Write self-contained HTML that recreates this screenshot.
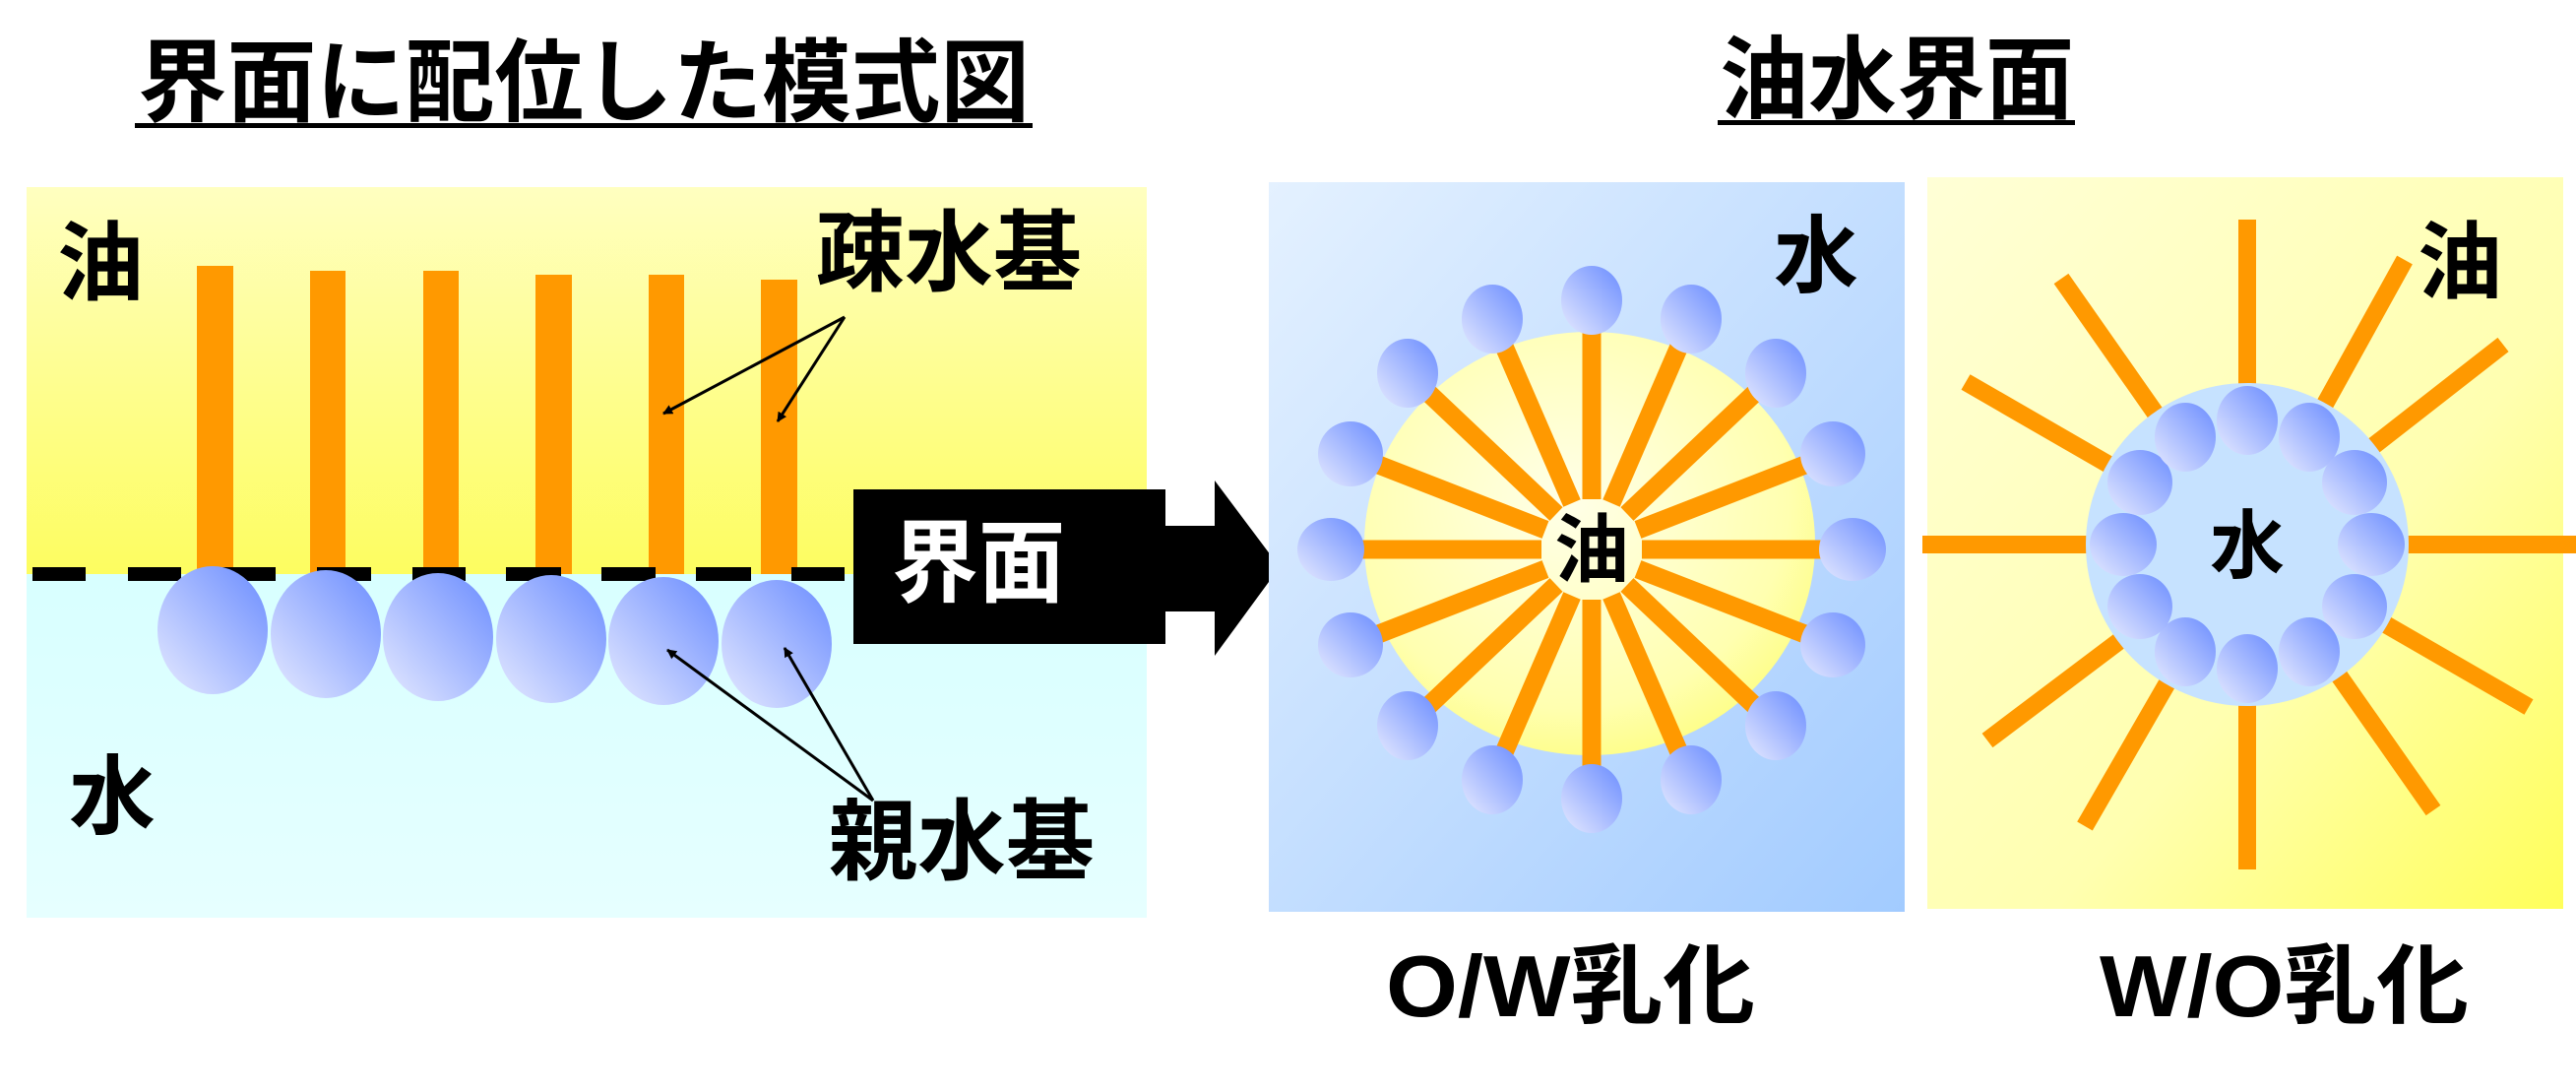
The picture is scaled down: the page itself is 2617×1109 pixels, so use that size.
<!DOCTYPE html>
<html><head><meta charset="utf-8"><style>
html,body{margin:0;padding:0;background:#fff;}
svg{display:block;}
text{font-family:"Liberation Sans","Noto Sans CJK JP",sans-serif;font-weight:700;}
</style></head><body>
<svg width="2617" height="1109" viewBox="0 0 2617 1109" xmlns="http://www.w3.org/2000/svg">
<defs>
<linearGradient id="oil" x1="0" y1="0" x2="0" y2="1"><stop offset="0" stop-color="#ffffc0"/><stop offset="1" stop-color="#fdfd60"/></linearGradient>
<linearGradient id="water" x1="0" y1="0" x2="0" y2="1"><stop offset="0" stop-color="#d8ffff"/><stop offset="1" stop-color="#e6ffff"/></linearGradient>
<linearGradient id="head" x1="0" y1="1" x2="1" y2="0"><stop offset="0" stop-color="#e6eaff"/><stop offset="1" stop-color="#6a8cff"/></linearGradient>
<linearGradient id="owbg" x1="0" y1="0" x2="1" y2="1"><stop offset="0" stop-color="#e4f1ff"/><stop offset="1" stop-color="#a2cbff"/></linearGradient>
<linearGradient id="wobg" x1="0" y1="0" x2="1" y2="1"><stop offset="0" stop-color="#ffffd6"/><stop offset="0.6" stop-color="#ffffb0"/><stop offset="1" stop-color="#ffff5a"/></linearGradient>
<radialGradient id="core" cx="0.45" cy="0.4" r="0.7"><stop offset="0" stop-color="#ffffe8"/><stop offset="0.7" stop-color="#ffffb0"/><stop offset="1" stop-color="#fdfd70"/></radialGradient>
<marker id="ah" markerWidth="10" markerHeight="10" refX="9" refY="5" orient="auto" markerUnits="userSpaceOnUse" viewBox="0 0 10 10"><path d="M0,0 L10,5 L0,10 z" fill="#000"/></marker>
</defs>

<!-- Titles -->
<text x="140" y="116" font-size="92" textLength="906" lengthAdjust="spacingAndGlyphs">界面に配位した模式図</text>
<rect x="137" y="125" width="912" height="5" fill="#000"/>
<text x="1747" y="113" font-size="92" textLength="360" lengthAdjust="spacingAndGlyphs">油水界面</text>
<rect x="1745" y="122" width="363" height="5" fill="#000"/>

<!-- Left panel -->
<rect x="27" y="190" width="1138" height="393" fill="url(#oil)"/>
<rect x="27" y="583" width="1138" height="349" fill="url(#water)"/>
<g fill="#ff9900">
<rect x="200" y="270" width="37" height="313"/>
<rect x="315" y="275" width="36" height="308"/>
<rect x="430" y="275" width="36" height="308"/>
<rect x="544" y="279" width="37" height="304"/>
<rect x="659" y="279" width="36" height="304"/>
<rect x="773" y="284" width="37" height="299"/>
</g>
<g fill="#000">
<rect x="33" y="576" width="54" height="14"/><rect x="130" y="576" width="54" height="14"/><rect x="226" y="576" width="54" height="14"/><rect x="322" y="576" width="55" height="14"/><rect x="419" y="576" width="54" height="14"/><rect x="514" y="576" width="56" height="14"/><rect x="611" y="576" width="55" height="14"/><rect x="707" y="576" width="56" height="14"/><rect x="804" y="576" width="54" height="14"/>
</g>
<g fill="url(#head)">
<ellipse cx="216" cy="640" rx="56" ry="65"/>
<ellipse cx="331" cy="644" rx="56" ry="65"/>
<ellipse cx="445" cy="647" rx="56" ry="65"/>
<ellipse cx="560" cy="649" rx="56" ry="65"/>
<ellipse cx="674" cy="651" rx="56" ry="65"/>
<ellipse cx="789" cy="654" rx="56" ry="65"/>
</g>
<text x="58" y="298" font-size="88">油</text>
<text x="70" y="840" font-size="88">水</text>
<text x="829" y="288" font-size="90" textLength="270" lengthAdjust="spacingAndGlyphs">疎水基</text>
<text x="842" y="886" font-size="90" textLength="270" lengthAdjust="spacingAndGlyphs">親水基</text>
<g stroke="#000" stroke-width="3" fill="none">
<line x1="858" y1="322" x2="674" y2="420" marker-end="url(#ah)"/>
<line x1="858" y1="322" x2="790" y2="428" marker-end="url(#ah)"/>
<line x1="887" y1="813" x2="678" y2="660" marker-end="url(#ah)"/>
<line x1="887" y1="813" x2="797" y2="658" marker-end="url(#ah)"/>
</g>
<path d="M867,497 H1184 V534 H1234 V488 L1300,576 L1234,666 V621 H1184 V654 H867 Z" fill="#000"/>
<text x="906" y="604" font-size="92" fill="#fff" textLength="176" lengthAdjust="spacingAndGlyphs">界面</text>

<!-- O/W panel -->
<rect x="1289" y="185" width="646" height="741" fill="url(#owbg)"/>
<ellipse cx="1615" cy="552" rx="229" ry="215" fill="url(#core)"/>
<g stroke="#ff9900" stroke-width="19">
<line x1="1617" y1="507" x2="1617" y2="305"/>
<line x1="1637" y1="511" x2="1718" y2="324"/>
<line x1="1653" y1="522" x2="1804" y2="379"/>
<line x1="1664" y1="538" x2="1862" y2="461"/>
<line x1="1668" y1="558" x2="1882" y2="558"/>
<line x1="1664" y1="578" x2="1862" y2="655"/>
<line x1="1653" y1="594" x2="1804" y2="737"/>
<line x1="1637" y1="605" x2="1718" y2="792"/>
<line x1="1617" y1="609" x2="1617" y2="811"/>
<line x1="1597" y1="605" x2="1516" y2="792"/>
<line x1="1581" y1="594" x2="1430" y2="737"/>
<line x1="1570" y1="578" x2="1372" y2="655"/>
<line x1="1566" y1="558" x2="1352" y2="558"/>
<line x1="1570" y1="538" x2="1372" y2="461"/>
<line x1="1581" y1="522" x2="1430" y2="379"/>
<line x1="1597" y1="511" x2="1516" y2="324"/>
</g>
<g fill="url(#head)">
<ellipse cx="1617" cy="305" rx="31" ry="35"/>
<ellipse cx="1718" cy="324" rx="31" ry="35"/>
<ellipse cx="1804" cy="379" rx="31" ry="35"/>
<ellipse cx="1862" cy="461" rx="33" ry="33"/>
<ellipse cx="1882" cy="558" rx="34" ry="32"/>
<ellipse cx="1862" cy="655" rx="33" ry="33"/>
<ellipse cx="1804" cy="737" rx="31" ry="35"/>
<ellipse cx="1718" cy="792" rx="31" ry="35"/>
<ellipse cx="1617" cy="811" rx="31" ry="35"/>
<ellipse cx="1516" cy="792" rx="31" ry="35"/>
<ellipse cx="1430" cy="737" rx="31" ry="35"/>
<ellipse cx="1372" cy="655" rx="33" ry="33"/>
<ellipse cx="1352" cy="558" rx="34" ry="32"/>
<ellipse cx="1372" cy="461" rx="33" ry="33"/>
<ellipse cx="1430" cy="379" rx="31" ry="35"/>
<ellipse cx="1516" cy="324" rx="31" ry="35"/>
</g>
<text x="1617" y="585" font-size="76" text-anchor="middle">油</text>
<text x="1802" y="290" font-size="86">水</text>
<text x="1408" y="1032" font-size="88" textLength="375" lengthAdjust="spacingAndGlyphs">O/W乳化</text>

<!-- W/O panel -->
<rect x="1958" y="180" width="646" height="743" fill="url(#wobg)"/>
<g stroke="#ff9900" stroke-width="18">
<line x1="2283" y1="553" x2="2283" y2="223"/>
<line x1="2283" y1="553" x2="2443" y2="264"/>
<line x1="2283" y1="553" x2="2543" y2="350"/>
<line x1="2283" y1="553" x2="2617" y2="553"/>
<line x1="2283" y1="553" x2="2569" y2="718"/>
<line x1="2283" y1="553" x2="2472" y2="823"/>
<line x1="2283" y1="553" x2="2283" y2="883"/>
<line x1="2283" y1="553" x2="2118" y2="839"/>
<line x1="2283" y1="553" x2="2019" y2="752"/>
<line x1="2283" y1="553" x2="1953" y2="553"/>
<line x1="2283" y1="553" x2="1997" y2="388"/>
<line x1="2283" y1="553" x2="2094" y2="283"/>
</g>
<circle cx="2283" cy="553" r="164" fill="#c6e2ff"/>
<g fill="url(#head)">
<ellipse cx="2283" cy="427" rx="31" ry="35"/>
<ellipse cx="2346" cy="444" rx="31" ry="35"/>
<ellipse cx="2392" cy="490" rx="33" ry="33"/>
<ellipse cx="2409" cy="553" rx="34" ry="32"/>
<ellipse cx="2392" cy="616" rx="33" ry="33"/>
<ellipse cx="2346" cy="662" rx="31" ry="35"/>
<ellipse cx="2283" cy="679" rx="31" ry="35"/>
<ellipse cx="2220" cy="662" rx="31" ry="35"/>
<ellipse cx="2174" cy="616" rx="33" ry="33"/>
<ellipse cx="2157" cy="553" rx="34" ry="32"/>
<ellipse cx="2174" cy="490" rx="33" ry="33"/>
<ellipse cx="2220" cy="444" rx="31" ry="35"/>
</g>
<text x="2283" y="581" font-size="76" text-anchor="middle">水</text>
<text x="2456" y="296" font-size="86">油</text>
<text x="2133" y="1032" font-size="88" textLength="375" lengthAdjust="spacingAndGlyphs">W/O乳化</text>
</svg>
</body></html>
